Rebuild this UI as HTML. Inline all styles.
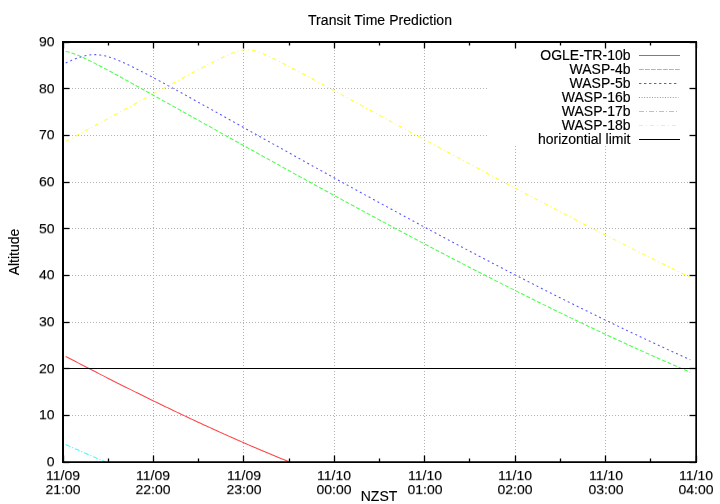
<!DOCTYPE html><html><head><meta charset="utf-8"><title>Transit Time Prediction</title><style>
html,body{margin:0;padding:0;background:#fff}
body{width:720px;height:504px;position:relative;overflow:hidden;font-family:"Liberation Sans",sans-serif;font-size:14px;color:#000;line-height:14px}
.t{position:absolute;white-space:nowrap;will-change:transform;-webkit-font-smoothing:antialiased;-webkit-text-stroke:0.15px #000}
.r{text-align:right}.c{text-align:center}
</style></head><body>
<svg width="720" height="504" viewBox="0 0 720 504" style="position:absolute;left:0;top:0">
<rect width="720" height="504" fill="#fff"/>
<line x1="66.0" y1="415.5" x2="696.0" y2="415.5" stroke="#b2b2b2" stroke-width="1" stroke-dasharray="1 2"/>
<line x1="66.0" y1="368.5" x2="696.0" y2="368.5" stroke="#b2b2b2" stroke-width="1" stroke-dasharray="1 2"/>
<line x1="66.0" y1="322.5" x2="696.0" y2="322.5" stroke="#b2b2b2" stroke-width="1" stroke-dasharray="1 2"/>
<line x1="66.0" y1="275.5" x2="696.0" y2="275.5" stroke="#b2b2b2" stroke-width="1" stroke-dasharray="1 2"/>
<line x1="66.0" y1="228.5" x2="696.0" y2="228.5" stroke="#b2b2b2" stroke-width="1" stroke-dasharray="1 2"/>
<line x1="66.0" y1="182.5" x2="696.0" y2="182.5" stroke="#b2b2b2" stroke-width="1" stroke-dasharray="1 2"/>
<line x1="66.0" y1="135.5" x2="487.0" y2="135.5" stroke="#b2b2b2" stroke-width="1" stroke-dasharray="1 2"/>
<line x1="66.0" y1="88.5" x2="487.0" y2="88.5" stroke="#b2b2b2" stroke-width="1" stroke-dasharray="1 2"/>
<line x1="153.5" y1="459.0" x2="153.5" y2="42.0" stroke="#b2b2b2" stroke-width="1" stroke-dasharray="1 2"/>
<line x1="243.5" y1="459.0" x2="243.5" y2="42.0" stroke="#b2b2b2" stroke-width="1" stroke-dasharray="1 2"/>
<line x1="334.5" y1="459.0" x2="334.5" y2="42.0" stroke="#b2b2b2" stroke-width="1" stroke-dasharray="1 2"/>
<line x1="424.5" y1="459.0" x2="424.5" y2="42.0" stroke="#b2b2b2" stroke-width="1" stroke-dasharray="1 2"/>
<line x1="515.5" y1="459.0" x2="515.5" y2="146.0" stroke="#b2b2b2" stroke-width="1" stroke-dasharray="1 2"/>
<line x1="605.5" y1="459.0" x2="605.5" y2="146.0" stroke="#b2b2b2" stroke-width="1" stroke-dasharray="1 2"/>
<path d="M65.71,356.41 L67.20,357.19 L68.69,357.97 L70.17,358.74 L71.66,359.52 L73.15,360.29 L74.64,361.07 L76.12,361.84 L77.61,362.62 L79.10,363.39 L80.58,364.16 L82.07,364.93 L83.56,365.70 L85.05,366.47 L86.53,367.24 L88.02,368.01 L89.51,368.77 L90.99,369.54 L92.48,370.30 L93.97,371.07 L95.46,371.83 L96.94,372.59 L98.43,373.35 L99.92,374.12 L101.40,374.88 L102.89,375.63 L104.38,376.39 L105.87,377.15 L107.35,377.91 L108.84,378.66 L110.33,379.42 L111.81,380.17 L113.30,380.92 L114.79,381.68 L116.27,382.43 L117.76,383.18 L119.25,383.93 L120.74,384.67 L122.22,385.42 L123.71,386.17 L125.20,386.91 L126.68,387.66 L128.17,388.40 L129.66,389.14 L131.15,389.89 L132.63,390.63 L134.12,391.37 L135.61,392.10 L137.09,392.84 L138.58,393.58 L140.07,394.31 L141.56,395.05 L143.04,395.78 L144.53,396.51 L146.02,397.25 L147.50,397.98 L148.99,398.71 L150.48,399.43 L151.97,400.16 L153.45,400.89 L154.94,401.61 L156.43,402.34 L157.91,403.06 L159.40,403.78 L160.89,404.50 L162.38,405.22 L163.86,405.94 L165.35,406.66 L166.84,407.38 L168.32,408.09 L169.81,408.81 L171.30,409.52 L172.79,410.23 L174.27,410.94 L175.76,411.65 L177.25,412.36 L178.73,413.07 L180.22,413.77 L181.71,414.48 L183.20,415.18 L184.68,415.88 L186.17,416.58 L187.66,417.29 L189.14,417.98 L190.63,418.68 L192.12,419.38 L193.61,420.07 L195.09,420.77 L196.58,421.46 L198.07,422.15 L199.55,422.84 L201.04,423.53 L202.53,424.22 L204.01,424.90 L205.50,425.59 L206.99,426.27 L208.48,426.96 L209.96,427.64 L211.45,428.32 L212.94,429.00 L214.42,429.67 L215.91,430.35 L217.40,431.02 L218.89,431.70 L220.37,432.37 L221.86,433.04 L223.35,433.71 L224.83,434.37 L226.32,435.04 L227.81,435.71 L229.30,436.37 L230.78,437.03 L232.27,437.69 L233.76,438.35 L235.24,439.01 L236.73,439.67 L238.22,440.32 L239.71,440.97 L241.19,441.63 L242.68,442.28 L244.17,442.92 L245.65,443.57 L247.14,444.22 L248.63,444.86 L250.12,445.51 L251.60,446.15 L253.09,446.79 L254.58,447.43 L256.06,448.06 L257.55,448.70 L259.04,449.33 L260.53,449.96 L262.01,450.60 L263.50,451.22 L264.99,451.85 L266.47,452.48 L267.96,453.10 L269.45,453.73 L270.94,454.35 L272.42,454.97 L273.91,455.58 L275.40,456.20 L276.88,456.81 L278.37,457.43 L279.86,458.04 L281.35,458.65 L282.83,459.26 L284.32,459.86 L285.81,460.47 L287.29,461.07 L288.78,461.67 L289.60,462.00" fill="none" stroke="#ff4646" stroke-width="1.05"/>
<path d="M65.71,51.41 L67.20,51.70 L68.69,52.05 L70.17,52.45 L71.66,52.91 L73.15,53.41 L74.64,53.95 L76.12,54.52 L77.61,55.12 L79.10,55.75 L80.58,56.40 L82.07,57.07 L83.56,57.75 L85.05,58.45 L86.53,59.17 L88.02,59.89 L89.51,60.63 L90.99,61.37 L92.48,62.12 L93.97,62.88 L95.46,63.64 L96.94,64.41 L98.43,65.19 L99.92,65.97 L101.40,66.75 L102.89,67.54 L104.38,68.33 L105.87,69.12 L107.35,69.92 L108.84,70.72 L110.33,71.52 L111.81,72.33 L113.30,73.13 L114.79,73.94 L116.27,74.75 L117.76,75.56 L119.25,76.37 L120.74,77.19 L122.22,78.00 L123.71,78.82 L125.20,79.63 L126.68,80.45 L128.17,81.27 L129.66,82.09 L131.15,82.91 L132.63,83.73 L134.12,84.56 L135.61,85.38 L137.09,86.20 L138.58,87.03 L140.07,87.85 L141.56,88.68 L143.04,89.50 L144.53,90.33 L146.02,91.15 L147.50,91.98 L148.99,92.81 L150.48,93.63 L151.97,94.46 L153.45,95.29 L154.94,96.12 L156.43,96.95 L157.91,97.78 L159.40,98.61 L160.89,99.43 L162.38,100.26 L163.86,101.09 L165.35,101.92 L166.84,102.75 L168.32,103.58 L169.81,104.41 L171.30,105.24 L172.79,106.07 L174.27,106.90 L175.76,107.73 L177.25,108.56 L178.73,109.39 L180.22,110.22 L181.71,111.06 L183.20,111.89 L184.68,112.72 L186.17,113.55 L187.66,114.38 L189.14,115.21 L190.63,116.04 L192.12,116.87 L193.61,117.70 L195.09,118.53 L196.58,119.36 L198.07,120.19 L199.55,121.02 L201.04,121.85 L202.53,122.68 L204.01,123.51 L205.50,124.34 L206.99,125.17 L208.48,126.00 L209.96,126.83 L211.45,127.66 L212.94,128.49 L214.42,129.32 L215.91,130.15 L217.40,130.98 L218.89,131.81 L220.37,132.64 L221.86,133.46 L223.35,134.29 L224.83,135.12 L226.32,135.95 L227.81,136.78 L229.30,137.61 L230.78,138.44 L232.27,139.26 L233.76,140.09 L235.24,140.92 L236.73,141.75 L238.22,142.57 L239.71,143.40 L241.19,144.23 L242.68,145.05 L244.17,145.88 L245.65,146.71 L247.14,147.53 L248.63,148.36 L250.12,149.18 L251.60,150.01 L253.09,150.83 L254.58,151.66 L256.06,152.48 L257.55,153.31 L259.04,154.13 L260.53,154.96 L262.01,155.78 L263.50,156.61 L264.99,157.43 L266.47,158.25 L267.96,159.08 L269.45,159.90 L270.94,160.72 L272.42,161.54 L273.91,162.37 L275.40,163.19 L276.88,164.01 L278.37,164.83 L279.86,165.65 L281.35,166.47 L282.83,167.29 L284.32,168.11 L285.81,168.93 L287.29,169.75 L288.78,170.57 L290.27,171.39 L291.76,172.21 L293.24,173.03 L294.73,173.85 L296.22,174.67 L297.70,175.49 L299.19,176.30 L300.68,177.12 L302.16,177.94 L303.65,178.75 L305.14,179.57 L306.63,180.39 L308.11,181.20 L309.60,182.02 L311.09,182.83 L312.57,183.65 L314.06,184.46 L315.55,185.28 L317.04,186.09 L318.52,186.90 L320.01,187.72 L321.50,188.53 L322.98,189.34 L324.47,190.16 L325.96,190.97 L327.45,191.78 L328.93,192.59 L330.42,193.40 L331.91,194.21 L333.39,195.02 L334.88,195.83 L336.37,196.64 L337.86,197.45 L339.34,198.26 L340.83,199.07 L342.32,199.88 L343.80,200.68 L345.29,201.49 L346.78,202.30 L348.27,203.10 L349.75,203.91 L351.24,204.72 L352.73,205.52 L354.21,206.33 L355.70,207.13 L357.19,207.94 L358.68,208.74 L360.16,209.54 L361.65,210.35 L363.14,211.15 L364.62,211.95 L366.11,212.75 L367.60,213.55 L369.09,214.35 L370.57,215.15 L372.06,215.95 L373.55,216.75 L375.03,217.55 L376.52,218.35 L378.01,219.15 L379.50,219.95 L380.98,220.75 L382.47,221.54 L383.96,222.34 L385.44,223.14 L386.93,223.93 L388.42,224.73 L389.90,225.52 L391.39,226.32 L392.88,227.11 L394.37,227.90 L395.85,228.70 L397.34,229.49 L398.83,230.28 L400.31,231.07 L401.80,231.86 L403.29,232.65 L404.78,233.44 L406.26,234.23 L407.75,235.02 L409.24,235.81 L410.72,236.60 L412.21,237.39 L413.70,238.18 L415.19,238.96 L416.67,239.75 L418.16,240.53 L419.65,241.32 L421.13,242.10 L422.62,242.89 L424.11,243.67 L425.60,244.45 L427.08,245.24 L428.57,246.02 L430.06,246.80 L431.54,247.58 L433.03,248.36 L434.52,249.14 L436.01,249.92 L437.49,250.70 L438.98,251.48 L440.47,252.25 L441.95,253.03 L443.44,253.81 L444.93,254.58 L446.42,255.36 L447.90,256.13 L449.39,256.91 L450.88,257.68 L452.36,258.46 L453.85,259.23 L455.34,260.00 L456.83,260.77 L458.31,261.54 L459.80,262.31 L461.29,263.08 L462.77,263.85 L464.26,264.62 L465.75,265.39 L467.24,266.15 L468.72,266.92 L470.21,267.69 L471.70,268.45 L473.18,269.22 L474.67,269.98 L476.16,270.74 L477.64,271.51 L479.13,272.27 L480.62,273.03 L482.11,273.79 L483.59,274.55 L485.08,275.31 L486.57,276.07 L488.05,276.83 L489.54,277.58 L491.03,278.34 L492.52,279.10 L494.00,279.85 L495.49,280.61 L496.98,281.36 L498.46,282.12 L499.95,282.87 L501.44,283.62 L502.93,284.37 L504.41,285.12 L505.90,285.87 L507.39,286.62 L508.87,287.37 L510.36,288.12 L511.85,288.87 L513.34,289.61 L514.82,290.36 L516.31,291.10 L517.80,291.85 L519.28,292.59 L520.77,293.34 L522.26,294.08 L523.75,294.82 L525.23,295.56 L526.72,296.30 L528.21,297.04 L529.69,297.78 L531.18,298.51 L532.67,299.25 L534.16,299.99 L535.64,300.72 L537.13,301.46 L538.62,302.19 L540.10,302.92 L541.59,303.66 L543.08,304.39 L544.57,305.12 L546.05,305.85 L547.54,306.58 L549.03,307.31 L550.51,308.03 L552.00,308.76 L553.49,309.49 L554.98,310.21 L556.46,310.93 L557.95,311.66 L559.44,312.38 L560.92,313.10 L562.41,313.82 L563.90,314.54 L565.38,315.26 L566.87,315.98 L568.36,316.70 L569.85,317.41 L571.33,318.13 L572.82,318.85 L574.31,319.56 L575.79,320.27 L577.28,320.98 L578.77,321.70 L580.26,322.41 L581.74,323.12 L583.23,323.82 L584.72,324.53 L586.20,325.24 L587.69,325.94 L589.18,326.65 L590.67,327.35 L592.15,328.06 L593.64,328.76 L595.13,329.46 L596.61,330.16 L598.10,330.86 L599.59,331.56 L601.08,332.26 L602.56,332.95 L604.05,333.65 L605.54,334.34 L607.02,335.04 L608.51,335.73 L610.00,336.42 L611.49,337.11 L612.97,337.80 L614.46,338.49 L615.95,339.18 L617.43,339.87 L618.92,340.55 L620.41,341.24 L621.90,341.92 L623.38,342.60 L624.87,343.29 L626.36,343.97 L627.84,344.65 L629.33,345.32 L630.82,346.00 L632.31,346.68 L633.79,347.35 L635.28,348.03 L636.77,348.70 L638.25,349.37 L639.74,350.05 L641.23,350.72 L642.72,351.39 L644.20,352.05 L645.69,352.72 L647.18,353.39 L648.66,354.05 L650.15,354.72 L651.64,355.38 L653.13,356.04 L654.61,356.70 L656.10,357.36 L657.59,358.02 L659.07,358.68 L660.56,359.33 L662.05,359.99 L663.53,360.64 L665.02,361.29 L666.51,361.94 L668.00,362.59 L669.48,363.24 L670.97,363.89 L672.46,364.54 L673.94,365.18 L675.43,365.83 L676.92,366.47 L678.41,367.11 L679.89,367.75 L681.38,368.39 L682.87,369.03 L684.35,369.67 L685.84,370.30 L687.33,370.94 L688.82,371.57 L690.30,372.21" fill="none" stroke="#48ff48" stroke-width="1.05" stroke-dasharray="4 2"/>
<path d="M65.71,62.94 L67.20,62.27 L68.69,61.61 L70.17,60.97 L71.66,60.34 L73.15,59.74 L74.64,59.15 L76.12,58.59 L77.61,58.06 L79.10,57.55 L80.58,57.07 L82.07,56.62 L83.56,56.22 L85.05,55.85 L86.53,55.52 L88.02,55.25 L89.51,55.02 L90.99,54.84 L92.48,54.72 L93.97,54.65 L95.46,54.64 L96.94,54.69 L98.43,54.80 L99.92,54.95 L101.40,55.17 L102.89,55.43 L104.38,55.74 L105.87,56.09 L107.35,56.49 L108.84,56.92 L110.33,57.39 L111.81,57.89 L113.30,58.42 L114.79,58.97 L116.27,59.55 L117.76,60.15 L119.25,60.77 L120.74,61.40 L122.22,62.05 L123.71,62.72 L125.20,63.40 L126.68,64.09 L128.17,64.79 L129.66,65.50 L131.15,66.22 L132.63,66.95 L134.12,67.68 L135.61,68.42 L137.09,69.17 L138.58,69.93 L140.07,70.68 L141.56,71.45 L143.04,72.22 L144.53,72.99 L146.02,73.76 L147.50,74.54 L148.99,75.33 L150.48,76.11 L151.97,76.90 L153.45,77.69 L154.94,78.49 L156.43,79.28 L157.91,80.08 L159.40,80.88 L160.89,81.68 L162.38,82.49 L163.86,83.29 L165.35,84.10 L166.84,84.91 L168.32,85.72 L169.81,86.53 L171.30,87.34 L172.79,88.16 L174.27,88.97 L175.76,89.79 L177.25,90.60 L178.73,91.42 L180.22,92.24 L181.71,93.06 L183.20,93.88 L184.68,94.70 L186.17,95.52 L187.66,96.34 L189.14,97.16 L190.63,97.99 L192.12,98.81 L193.61,99.63 L195.09,100.46 L196.58,101.28 L198.07,102.11 L199.55,102.94 L201.04,103.76 L202.53,104.59 L204.01,105.42 L205.50,106.24 L206.99,107.07 L208.48,107.90 L209.96,108.73 L211.45,109.56 L212.94,110.38 L214.42,111.21 L215.91,112.04 L217.40,112.87 L218.89,113.70 L220.37,114.53 L221.86,115.36 L223.35,116.19 L224.83,117.02 L226.32,117.85 L227.81,118.68 L229.30,119.51 L230.78,120.34 L232.27,121.17 L233.76,122.00 L235.24,122.83 L236.73,123.66 L238.22,124.49 L239.71,125.32 L241.19,126.15 L242.68,126.98 L244.17,127.81 L245.65,128.64 L247.14,129.47 L248.63,130.31 L250.12,131.14 L251.60,131.97 L253.09,132.80 L254.58,133.63 L256.06,134.46 L257.55,135.29 L259.04,136.12 L260.53,136.95 L262.01,137.78 L263.50,138.61 L264.99,139.44 L266.47,140.27 L267.96,141.10 L269.45,141.93 L270.94,142.76 L272.42,143.59 L273.91,144.41 L275.40,145.24 L276.88,146.07 L278.37,146.90 L279.86,147.73 L281.35,148.56 L282.83,149.39 L284.32,150.22 L285.81,151.04 L287.29,151.87 L288.78,152.70 L290.27,153.53 L291.76,154.35 L293.24,155.18 L294.73,156.01 L296.22,156.84 L297.70,157.66 L299.19,158.49 L300.68,159.32 L302.16,160.14 L303.65,160.97 L305.14,161.79 L306.63,162.62 L308.11,163.44 L309.60,164.27 L311.09,165.09 L312.57,165.92 L314.06,166.74 L315.55,167.57 L317.04,168.39 L318.52,169.22 L320.01,170.04 L321.50,170.86 L322.98,171.69 L324.47,172.51 L325.96,173.33 L327.45,174.15 L328.93,174.97 L330.42,175.80 L331.91,176.62 L333.39,177.44 L334.88,178.26 L336.37,179.08 L337.86,179.90 L339.34,180.72 L340.83,181.54 L342.32,182.36 L343.80,183.18 L345.29,184.00 L346.78,184.82 L348.27,185.64 L349.75,186.45 L351.24,187.27 L352.73,188.09 L354.21,188.91 L355.70,189.72 L357.19,190.54 L358.68,191.36 L360.16,192.17 L361.65,192.99 L363.14,193.80 L364.62,194.62 L366.11,195.43 L367.60,196.25 L369.09,197.06 L370.57,197.88 L372.06,198.69 L373.55,199.50 L375.03,200.31 L376.52,201.13 L378.01,201.94 L379.50,202.75 L380.98,203.56 L382.47,204.37 L383.96,205.18 L385.44,205.99 L386.93,206.80 L388.42,207.61 L389.90,208.42 L391.39,209.23 L392.88,210.04 L394.37,210.85 L395.85,211.65 L397.34,212.46 L398.83,213.27 L400.31,214.07 L401.80,214.88 L403.29,215.68 L404.78,216.49 L406.26,217.29 L407.75,218.10 L409.24,218.90 L410.72,219.70 L412.21,220.51 L413.70,221.31 L415.19,222.11 L416.67,222.91 L418.16,223.72 L419.65,224.52 L421.13,225.32 L422.62,226.12 L424.11,226.92 L425.60,227.71 L427.08,228.51 L428.57,229.31 L430.06,230.11 L431.54,230.91 L433.03,231.70 L434.52,232.50 L436.01,233.30 L437.49,234.09 L438.98,234.89 L440.47,235.68 L441.95,236.47 L443.44,237.27 L444.93,238.06 L446.42,238.85 L447.90,239.64 L449.39,240.44 L450.88,241.23 L452.36,242.02 L453.85,242.81 L455.34,243.60 L456.83,244.39 L458.31,245.17 L459.80,245.96 L461.29,246.75 L462.77,247.54 L464.26,248.32 L465.75,249.11 L467.24,249.89 L468.72,250.68 L470.21,251.46 L471.70,252.25 L473.18,253.03 L474.67,253.81 L476.16,254.59 L477.64,255.38 L479.13,256.16 L480.62,256.94 L482.11,257.72 L483.59,258.50 L485.08,259.28 L486.57,260.05 L488.05,260.83 L489.54,261.61 L491.03,262.38 L492.52,263.16 L494.00,263.94 L495.49,264.71 L496.98,265.48 L498.46,266.26 L499.95,267.03 L501.44,267.80 L502.93,268.57 L504.41,269.35 L505.90,270.12 L507.39,270.89 L508.87,271.65 L510.36,272.42 L511.85,273.19 L513.34,273.96 L514.82,274.73 L516.31,275.49 L517.80,276.26 L519.28,277.02 L520.77,277.79 L522.26,278.55 L523.75,279.31 L525.23,280.07 L526.72,280.84 L528.21,281.60 L529.69,282.36 L531.18,283.12 L532.67,283.87 L534.16,284.63 L535.64,285.39 L537.13,286.15 L538.62,286.90 L540.10,287.66 L541.59,288.41 L543.08,289.17 L544.57,289.92 L546.05,290.67 L547.54,291.42 L549.03,292.18 L550.51,292.93 L552.00,293.68 L553.49,294.42 L554.98,295.17 L556.46,295.92 L557.95,296.67 L559.44,297.41 L560.92,298.16 L562.41,298.90 L563.90,299.65 L565.38,300.39 L566.87,301.13 L568.36,301.87 L569.85,302.61 L571.33,303.35 L572.82,304.09 L574.31,304.83 L575.79,305.57 L577.28,306.31 L578.77,307.04 L580.26,307.78 L581.74,308.51 L583.23,309.25 L584.72,309.98 L586.20,310.71 L587.69,311.44 L589.18,312.17 L590.67,312.90 L592.15,313.63 L593.64,314.36 L595.13,315.09 L596.61,315.81 L598.10,316.54 L599.59,317.26 L601.08,317.99 L602.56,318.71 L604.05,319.43 L605.54,320.15 L607.02,320.87 L608.51,321.59 L610.00,322.31 L611.49,323.03 L612.97,323.75 L614.46,324.46 L615.95,325.18 L617.43,325.89 L618.92,326.61 L620.41,327.32 L621.90,328.03 L623.38,328.74 L624.87,329.45 L626.36,330.16 L627.84,330.87 L629.33,331.57 L630.82,332.28 L632.31,332.98 L633.79,333.69 L635.28,334.39 L636.77,335.09 L638.25,335.79 L639.74,336.50 L641.23,337.19 L642.72,337.89 L644.20,338.59 L645.69,339.29 L647.18,339.98 L648.66,340.68 L650.15,341.37 L651.64,342.06 L653.13,342.75 L654.61,343.44 L656.10,344.13 L657.59,344.82 L659.07,345.51 L660.56,346.20 L662.05,346.88 L663.53,347.57 L665.02,348.25 L666.51,348.93 L668.00,349.61 L669.48,350.29 L670.97,350.97 L672.46,351.65 L673.94,352.33 L675.43,353.00 L676.92,353.68 L678.41,354.35 L679.89,355.03 L681.38,355.70 L682.87,356.37 L684.35,357.04 L685.84,357.71 L687.33,358.37 L688.82,359.04 L690.30,359.70" fill="none" stroke="#5555ff" stroke-width="1.05" stroke-dasharray="2 3"/>
<path d="M65.71,444.54 L67.20,445.20 L68.69,445.87 L70.17,446.54 L71.66,447.20 L73.15,447.86 L74.64,448.53 L76.12,449.19 L77.61,449.84 L79.10,450.50 L80.58,451.16 L82.07,451.81 L83.56,452.46 L85.05,453.11 L86.53,453.76 L88.02,454.41 L89.51,455.06 L90.99,455.70 L92.48,456.35 L93.97,456.99 L95.46,457.63 L96.94,458.27 L98.43,458.91 L99.92,459.54 L101.40,460.17 L102.89,460.81 L104.38,461.44 L105.71,462.00" fill="none" stroke="#30ffff" stroke-width="1.05" stroke-dasharray="5 2 1 2"/>
<path d="M65.71,141.39 L67.20,140.59 L68.69,139.79 L70.17,138.99 L71.66,138.18 L73.15,137.38 L74.64,136.58 L76.12,135.77 L77.61,134.97 L79.10,134.17 L80.58,133.36 L82.07,132.56 L83.56,131.75 L85.05,130.95 L86.53,130.14 L88.02,129.34 L89.51,128.53 L90.99,127.73 L92.48,126.92 L93.97,126.12 L95.46,125.31 L96.94,124.51 L98.43,123.70 L99.92,122.90 L101.40,122.09 L102.89,121.28 L104.38,120.48 L105.87,119.67 L107.35,118.86 L108.84,118.06 L110.33,117.25 L111.81,116.44 L113.30,115.64 L114.79,114.83 L116.27,114.02 L117.76,113.22 L119.25,112.41 L120.74,111.60 L122.22,110.80 L123.71,109.99 L125.20,109.18 L126.68,108.37 L128.17,107.57 L129.66,106.76 L131.15,105.95 L132.63,105.14 L134.12,104.34 L135.61,103.53 L137.09,102.72 L138.58,101.92 L140.07,101.11 L141.56,100.30 L143.04,99.49 L144.53,98.69 L146.02,97.88 L147.50,97.07 L148.99,96.27 L150.48,95.46 L151.97,94.65 L153.45,93.85 L154.94,93.04 L156.43,92.23 L157.91,91.43 L159.40,90.62 L160.89,89.82 L162.38,89.01 L163.86,88.21 L165.35,87.40 L166.84,86.60 L168.32,85.79 L169.81,84.99 L171.30,84.19 L172.79,83.38 L174.27,82.58 L175.76,81.78 L177.25,80.98 L178.73,80.18 L180.22,79.38 L181.71,78.58 L183.20,77.78 L184.68,76.98 L186.17,76.18 L187.66,75.39 L189.14,74.59 L190.63,73.80 L192.12,73.01 L193.61,72.21 L195.09,71.42 L196.58,70.63 L198.07,69.85 L199.55,69.06 L201.04,68.28 L202.53,67.50 L204.01,66.72 L205.50,65.94 L206.99,65.16 L208.48,64.39 L209.96,63.63 L211.45,62.86 L212.94,62.10 L214.42,61.35 L215.91,60.60 L217.40,59.86 L218.89,59.12 L220.37,58.39 L221.86,57.67 L223.35,56.96 L224.83,56.26 L226.32,55.58 L227.81,54.91 L229.30,54.26 L230.78,53.63 L232.27,53.02 L233.76,52.45 L235.24,51.91 L236.73,51.40 L238.22,50.95 L239.71,50.55 L241.19,50.21 L242.68,49.95 L244.17,49.76 L245.65,49.65 L247.14,49.63 L248.63,49.70 L250.12,49.85 L251.60,50.09 L253.09,50.39 L254.58,50.77 L256.06,51.20 L257.55,51.68 L259.04,52.21 L260.53,52.77 L262.01,53.36 L263.50,53.98 L264.99,54.62 L266.47,55.28 L267.96,55.96 L269.45,56.66 L270.94,57.36 L272.42,58.08 L273.91,58.80 L275.40,59.53 L276.88,60.28 L278.37,61.02 L279.86,61.77 L281.35,62.53 L282.83,63.29 L284.32,64.06 L285.81,64.83 L287.29,65.60 L288.78,66.38 L290.27,67.16 L291.76,67.94 L293.24,68.72 L294.73,69.51 L296.22,70.29 L297.70,71.08 L299.19,71.87 L300.68,72.66 L302.16,73.45 L303.65,74.25 L305.14,75.04 L306.63,75.84 L308.11,76.64 L309.60,77.43 L311.09,78.23 L312.57,79.03 L314.06,79.83 L315.55,80.63 L317.04,81.43 L318.52,82.23 L320.01,83.04 L321.50,83.84 L322.98,84.64 L324.47,85.45 L325.96,86.25 L327.45,87.05 L328.93,87.86 L330.42,88.66 L331.91,89.47 L333.39,90.27 L334.88,91.08 L336.37,91.88 L337.86,92.69 L339.34,93.50 L340.83,94.30 L342.32,95.11 L343.80,95.92 L345.29,96.72 L346.78,97.53 L348.27,98.34 L349.75,99.14 L351.24,99.95 L352.73,100.76 L354.21,101.56 L355.70,102.37 L357.19,103.18 L358.68,103.99 L360.16,104.79 L361.65,105.60 L363.14,106.41 L364.62,107.22 L366.11,108.02 L367.60,108.83 L369.09,109.64 L370.57,110.44 L372.06,111.25 L373.55,112.06 L375.03,112.87 L376.52,113.67 L378.01,114.48 L379.50,115.29 L380.98,116.09 L382.47,116.90 L383.96,117.71 L385.44,118.51 L386.93,119.32 L388.42,120.13 L389.90,120.93 L391.39,121.74 L392.88,122.55 L394.37,123.35 L395.85,124.16 L397.34,124.96 L398.83,125.77 L400.31,126.57 L401.80,127.38 L403.29,128.18 L404.78,128.99 L406.26,129.79 L407.75,130.60 L409.24,131.40 L410.72,132.21 L412.21,133.01 L413.70,133.82 L415.19,134.62 L416.67,135.42 L418.16,136.23 L419.65,137.03 L421.13,137.83 L422.62,138.64 L424.11,139.44 L425.60,140.24 L427.08,141.04 L428.57,141.85 L430.06,142.65 L431.54,143.45 L433.03,144.25 L434.52,145.05 L436.01,145.86 L437.49,146.66 L438.98,147.46 L440.47,148.26 L441.95,149.06 L443.44,149.86 L444.93,150.66 L446.42,151.46 L447.90,152.26 L449.39,153.06 L450.88,153.85 L452.36,154.65 L453.85,155.45 L455.34,156.25 L456.83,157.05 L458.31,157.84 L459.80,158.64 L461.29,159.44 L462.77,160.24 L464.26,161.03 L465.75,161.83 L467.24,162.62 L468.72,163.42 L470.21,164.22 L471.70,165.01 L473.18,165.81 L474.67,166.60 L476.16,167.39 L477.64,168.19 L479.13,168.98 L480.62,169.78 L482.11,170.57 L483.59,171.36 L485.08,172.15 L486.57,172.95 L488.05,173.74 L489.54,174.53 L491.03,175.32 L492.52,176.11 L494.00,176.90 L495.49,177.69 L496.98,178.48 L498.46,179.27 L499.95,180.06 L501.44,180.85 L502.93,181.64 L504.41,182.43 L505.90,183.22 L507.39,184.00 L508.87,184.79 L510.36,185.58 L511.85,186.36 L513.34,187.15 L514.82,187.94 L516.31,188.72 L517.80,189.51 L519.28,190.29 L520.77,191.08 L522.26,191.86 L523.75,192.64 L525.23,193.43 L526.72,194.21 L528.21,194.99 L529.69,195.77 L531.18,196.56 L532.67,197.34 L534.16,198.12 L535.64,198.90 L537.13,199.68 L538.62,200.46 L540.10,201.24 L541.59,202.02 L543.08,202.80 L544.57,203.57 L546.05,204.35 L547.54,205.13 L549.03,205.91 L550.51,206.68 L552.00,207.46 L553.49,208.23 L554.98,209.01 L556.46,209.78 L557.95,210.56 L559.44,211.33 L560.92,212.10 L562.41,212.88 L563.90,213.65 L565.38,214.42 L566.87,215.19 L568.36,215.97 L569.85,216.74 L571.33,217.51 L572.82,218.28 L574.31,219.05 L575.79,219.81 L577.28,220.58 L578.77,221.35 L580.26,222.12 L581.74,222.88 L583.23,223.65 L584.72,224.42 L586.20,225.18 L587.69,225.95 L589.18,226.71 L590.67,227.48 L592.15,228.24 L593.64,229.00 L595.13,229.77 L596.61,230.53 L598.10,231.29 L599.59,232.05 L601.08,232.81 L602.56,233.57 L604.05,234.33 L605.54,235.09 L607.02,235.85 L608.51,236.60 L610.00,237.36 L611.49,238.12 L612.97,238.87 L614.46,239.63 L615.95,240.39 L617.43,241.14 L618.92,241.89 L620.41,242.65 L621.90,243.40 L623.38,244.15 L624.87,244.90 L626.36,245.66 L627.84,246.41 L629.33,247.16 L630.82,247.91 L632.31,248.66 L633.79,249.40 L635.28,250.15 L636.77,250.90 L638.25,251.65 L639.74,252.39 L641.23,253.14 L642.72,253.88 L644.20,254.63 L645.69,255.37 L647.18,256.11 L648.66,256.85 L650.15,257.60 L651.64,258.34 L653.13,259.08 L654.61,259.82 L656.10,260.56 L657.59,261.30 L659.07,262.03 L660.56,262.77 L662.05,263.51 L663.53,264.24 L665.02,264.98 L666.51,265.71 L668.00,266.45 L669.48,267.18 L670.97,267.91 L672.46,268.65 L673.94,269.38 L675.43,270.11 L676.92,270.84 L678.41,271.57 L679.89,272.30 L681.38,273.02 L682.87,273.75 L684.35,274.48 L685.84,275.20 L687.33,275.93 L688.82,276.65 L690.30,277.38" fill="none" stroke="#ffff30" stroke-width="1.05" stroke-dasharray="4 3 1 3"/>
<line x1="63.0" y1="368.5" x2="696.0" y2="368.5" stroke="#000" stroke-width="1.2"/>
<line x1="63.0" y1="462.5" x2="69.5" y2="462.5" stroke="#000" stroke-width="1.3"/>
<line x1="696.0" y1="462.5" x2="689.5" y2="462.5" stroke="#000" stroke-width="1.3"/>
<line x1="63.0" y1="415.5" x2="69.5" y2="415.5" stroke="#000" stroke-width="1.3"/>
<line x1="696.0" y1="415.5" x2="689.5" y2="415.5" stroke="#000" stroke-width="1.3"/>
<line x1="63.0" y1="368.5" x2="69.5" y2="368.5" stroke="#000" stroke-width="1.3"/>
<line x1="696.0" y1="368.5" x2="689.5" y2="368.5" stroke="#000" stroke-width="1.3"/>
<line x1="63.0" y1="322.5" x2="69.5" y2="322.5" stroke="#000" stroke-width="1.3"/>
<line x1="696.0" y1="322.5" x2="689.5" y2="322.5" stroke="#000" stroke-width="1.3"/>
<line x1="63.0" y1="275.5" x2="69.5" y2="275.5" stroke="#000" stroke-width="1.3"/>
<line x1="696.0" y1="275.5" x2="689.5" y2="275.5" stroke="#000" stroke-width="1.3"/>
<line x1="63.0" y1="228.5" x2="69.5" y2="228.5" stroke="#000" stroke-width="1.3"/>
<line x1="696.0" y1="228.5" x2="689.5" y2="228.5" stroke="#000" stroke-width="1.3"/>
<line x1="63.0" y1="182.5" x2="69.5" y2="182.5" stroke="#000" stroke-width="1.3"/>
<line x1="696.0" y1="182.5" x2="689.5" y2="182.5" stroke="#000" stroke-width="1.3"/>
<line x1="63.0" y1="135.5" x2="69.5" y2="135.5" stroke="#000" stroke-width="1.3"/>
<line x1="696.0" y1="135.5" x2="689.5" y2="135.5" stroke="#000" stroke-width="1.3"/>
<line x1="63.0" y1="88.5" x2="69.5" y2="88.5" stroke="#000" stroke-width="1.3"/>
<line x1="696.0" y1="88.5" x2="689.5" y2="88.5" stroke="#000" stroke-width="1.3"/>
<line x1="63.0" y1="42.5" x2="69.5" y2="42.5" stroke="#000" stroke-width="1.3"/>
<line x1="696.0" y1="42.5" x2="689.5" y2="42.5" stroke="#000" stroke-width="1.3"/>
<line x1="63.5" y1="462.0" x2="63.5" y2="455.5" stroke="#000" stroke-width="1.3"/>
<line x1="63.5" y1="42.0" x2="63.5" y2="48.5" stroke="#000" stroke-width="1.3"/>
<line x1="108.5" y1="462.0" x2="108.5" y2="458.5" stroke="#000" stroke-width="1.3"/>
<line x1="108.5" y1="42.0" x2="108.5" y2="45.5" stroke="#000" stroke-width="1.3"/>
<line x1="153.5" y1="462.0" x2="153.5" y2="455.5" stroke="#000" stroke-width="1.3"/>
<line x1="153.5" y1="42.0" x2="153.5" y2="48.5" stroke="#000" stroke-width="1.3"/>
<line x1="198.5" y1="462.0" x2="198.5" y2="458.5" stroke="#000" stroke-width="1.3"/>
<line x1="198.5" y1="42.0" x2="198.5" y2="45.5" stroke="#000" stroke-width="1.3"/>
<line x1="243.5" y1="462.0" x2="243.5" y2="455.5" stroke="#000" stroke-width="1.3"/>
<line x1="243.5" y1="42.0" x2="243.5" y2="48.5" stroke="#000" stroke-width="1.3"/>
<line x1="289.5" y1="462.0" x2="289.5" y2="458.5" stroke="#000" stroke-width="1.3"/>
<line x1="289.5" y1="42.0" x2="289.5" y2="45.5" stroke="#000" stroke-width="1.3"/>
<line x1="334.5" y1="462.0" x2="334.5" y2="455.5" stroke="#000" stroke-width="1.3"/>
<line x1="334.5" y1="42.0" x2="334.5" y2="48.5" stroke="#000" stroke-width="1.3"/>
<line x1="379.5" y1="462.0" x2="379.5" y2="458.5" stroke="#000" stroke-width="1.3"/>
<line x1="379.5" y1="42.0" x2="379.5" y2="45.5" stroke="#000" stroke-width="1.3"/>
<line x1="424.5" y1="462.0" x2="424.5" y2="455.5" stroke="#000" stroke-width="1.3"/>
<line x1="424.5" y1="42.0" x2="424.5" y2="48.5" stroke="#000" stroke-width="1.3"/>
<line x1="469.5" y1="462.0" x2="469.5" y2="458.5" stroke="#000" stroke-width="1.3"/>
<line x1="469.5" y1="42.0" x2="469.5" y2="45.5" stroke="#000" stroke-width="1.3"/>
<line x1="515.5" y1="462.0" x2="515.5" y2="455.5" stroke="#000" stroke-width="1.3"/>
<line x1="515.5" y1="42.0" x2="515.5" y2="48.5" stroke="#000" stroke-width="1.3"/>
<line x1="560.5" y1="462.0" x2="560.5" y2="458.5" stroke="#000" stroke-width="1.3"/>
<line x1="560.5" y1="42.0" x2="560.5" y2="45.5" stroke="#000" stroke-width="1.3"/>
<line x1="605.5" y1="462.0" x2="605.5" y2="455.5" stroke="#000" stroke-width="1.3"/>
<line x1="605.5" y1="42.0" x2="605.5" y2="48.5" stroke="#000" stroke-width="1.3"/>
<line x1="650.5" y1="462.0" x2="650.5" y2="458.5" stroke="#000" stroke-width="1.3"/>
<line x1="650.5" y1="42.0" x2="650.5" y2="45.5" stroke="#000" stroke-width="1.3"/>
<line x1="696.5" y1="462.0" x2="696.5" y2="455.5" stroke="#000" stroke-width="1.3"/>
<line x1="696.5" y1="42.0" x2="696.5" y2="48.5" stroke="#000" stroke-width="1.3"/>
<path d="M62 41H697V463H62Z M64 43V461.2H695.3V43Z" fill="#000" fill-rule="evenodd"/>
<line x1="639.0" y1="55.5" x2="680" y2="55.5" stroke="#ff4646" stroke-width="1"/>
<line x1="639.0" y1="69.5" x2="680" y2="69.5" stroke="#48ff48" stroke-width="1" stroke-dasharray="4.8 1.2"/>
<line x1="639.0" y1="83.5" x2="677" y2="83.5" stroke="#5555ff" stroke-width="1" stroke-dasharray="2.4 2.6"/>
<line x1="639.0" y1="97.5" x2="678.5" y2="97.5" stroke="#ff50ff" stroke-width="1" stroke-dasharray="1 1.6"/>
<line x1="639.0" y1="111.5" x2="677.5" y2="111.5" stroke="#30ffff" stroke-width="1" stroke-dasharray="5 2 1 2"/>
<line x1="639.0" y1="125.5" x2="676" y2="125.5" stroke="#ffff30" stroke-width="1" stroke-dasharray="4 3 1 3"/>
<line x1="639.0" y1="139.5" x2="680" y2="139.5" stroke="#000000" stroke-width="1"/>
</svg>
<div class="t c" style="left:230px;width:300px;top:13px;letter-spacing:0.06px">Transit Time Prediction</div>
<div class="t r" style="left:0;width:54.5px;top:455px;transform:scaleY(0.92);transform-origin:50% 3px">0</div>
<div class="t r" style="left:0;width:54.5px;top:408px;transform:scaleY(0.92);transform-origin:50% 3px">10</div>
<div class="t r" style="left:0;width:54.5px;top:362px;transform:scaleY(0.92);transform-origin:50% 3px">20</div>
<div class="t r" style="left:0;width:54.5px;top:315px;transform:scaleY(0.92);transform-origin:50% 3px">30</div>
<div class="t r" style="left:0;width:54.5px;top:268px;transform:scaleY(0.92);transform-origin:50% 3px">40</div>
<div class="t r" style="left:0;width:54.5px;top:222px;transform:scaleY(0.92);transform-origin:50% 3px">50</div>
<div class="t r" style="left:0;width:54.5px;top:175px;transform:scaleY(0.92);transform-origin:50% 3px">60</div>
<div class="t r" style="left:0;width:54.5px;top:128px;transform:scaleY(0.92);transform-origin:50% 3px">70</div>
<div class="t r" style="left:0;width:54.5px;top:82px;transform:scaleY(0.92);transform-origin:50% 3px">80</div>
<div class="t r" style="left:0;width:54.5px;top:35px;transform:scaleY(0.92);transform-origin:50% 3px">90</div>
<div class="t c" style="left:33px;width:60px;top:469px;transform:scaleY(0.92);transform-origin:50% 2px">11/09</div>
<div class="t c" style="left:33px;width:60px;top:483px;transform:scaleY(0.92);transform-origin:50% 2px">21:00</div>
<div class="t c" style="left:123px;width:60px;top:469px;transform:scaleY(0.92);transform-origin:50% 2px">11/09</div>
<div class="t c" style="left:123px;width:60px;top:483px;transform:scaleY(0.92);transform-origin:50% 2px">22:00</div>
<div class="t c" style="left:214px;width:60px;top:469px;transform:scaleY(0.92);transform-origin:50% 2px">11/09</div>
<div class="t c" style="left:214px;width:60px;top:483px;transform:scaleY(0.92);transform-origin:50% 2px">23:00</div>
<div class="t c" style="left:304px;width:60px;top:469px;transform:scaleY(0.92);transform-origin:50% 2px">11/10</div>
<div class="t c" style="left:304px;width:60px;top:483px;transform:scaleY(0.92);transform-origin:50% 2px">00:00</div>
<div class="t c" style="left:395px;width:60px;top:469px;transform:scaleY(0.92);transform-origin:50% 2px">11/10</div>
<div class="t c" style="left:395px;width:60px;top:483px;transform:scaleY(0.92);transform-origin:50% 2px">01:00</div>
<div class="t c" style="left:485px;width:60px;top:469px;transform:scaleY(0.92);transform-origin:50% 2px">11/10</div>
<div class="t c" style="left:485px;width:60px;top:483px;transform:scaleY(0.92);transform-origin:50% 2px">02:00</div>
<div class="t c" style="left:576px;width:60px;top:469px;transform:scaleY(0.92);transform-origin:50% 2px">11/10</div>
<div class="t c" style="left:576px;width:60px;top:483px;transform:scaleY(0.92);transform-origin:50% 2px">03:00</div>
<div class="t c" style="left:666px;width:60px;top:469px;transform:scaleY(0.92);transform-origin:50% 2px">11/10</div>
<div class="t c" style="left:666px;width:60px;top:483px;transform:scaleY(0.92);transform-origin:50% 2px">04:00</div>
<div class="t c" style="left:349px;width:60px;top:489px">NZST</div>
<div class="t c" style="left:-16px;width:60px;top:244.75px;transform:rotate(-90deg)">Altitude</div>
<div class="t r" style="left:480px;width:150.5px;top:48px">OGLE-TR-10b</div>
<div class="t r" style="left:480px;width:150.5px;top:62px">WASP-4b</div>
<div class="t r" style="left:480px;width:150.5px;top:76px">WASP-5b</div>
<div class="t r" style="left:480px;width:150.5px;top:90px">WASP-16b</div>
<div class="t r" style="left:480px;width:150.5px;top:104px">WASP-17b</div>
<div class="t r" style="left:480px;width:150.5px;top:118px">WASP-18b</div>
<div class="t r" style="left:480px;width:150.5px;top:132px">horizontial limit</div>
</body></html>
